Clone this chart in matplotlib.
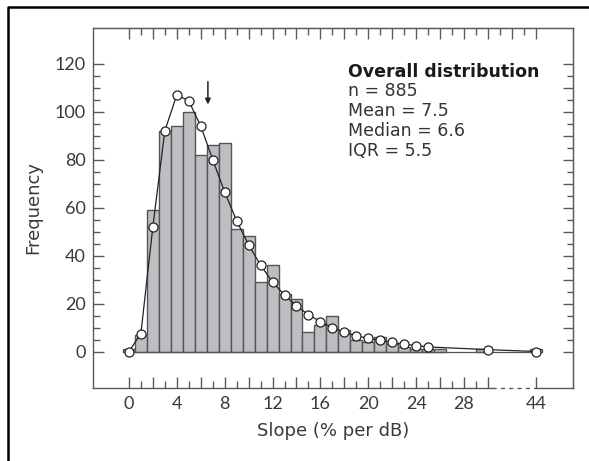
import matplotlib.pyplot as plt
import numpy as np
from matplotlib.lines import Line2D

plt.rcParams['font.family'] = ['Lato', 'DejaVu Sans']
label_font = ['DejaVu Sans']

# Histogram counts (slope bins, % per dB)
bar_slope = [0, 1, 2, 3, 4, 5, 6, 7, 8, 9, 10, 11, 12, 13, 14, 15, 16, 17, 18,
             19, 20, 21, 22, 23, 24, 25, 26, 29.5, 44]
bar_count = [1, 7, 59, 92, 94, 100, 82, 86, 87, 51, 48, 29, 36, 24, 22, 8, 11,
             15, 9, 5, 4, 6, 3, 2, 1, 1, 1, 1, 1]

# Smoothed distribution (open circles)
fit_slope = [0, 1, 2, 3, 4, 5, 6, 7, 8, 9, 10, 11, 12, 13, 14, 15, 16, 17, 18,
             19, 20, 21, 22, 23, 24, 25, 30, 44]
fit_count = [0, 7.5, 52, 92, 107, 104.5, 94, 80, 66.5, 54.5, 44.5, 36, 29, 23.5,
             19, 15.3, 12.5, 10, 8, 6.5, 5.6, 4.6, 3.8, 3.1, 2.5, 1.9, 0.8, 0]

median = 6.6
stats_title = "Overall distribution"
stats_lines = ["n = 885", "Mean = 7.5", "Median = 6.6", "IQR = 5.5"]


def brk(x):
    # axis is broken between 30 and 44
    x = np.asarray(x, dtype=float)
    return np.where(x > 30, x - 10, x)


axis_col = '#5a5a5a'
text_col = '#3a3a3a'

fig = plt.figure(figsize=(5.89, 4.61), dpi=100)
ax = fig.add_axes([93 / 589, 1 - 387.5 / 461, (573 - 93) / 589, (387.5 - 27.7) / 461])

ax.bar(brk(bar_slope), bar_count, width=1.0, color='#bdbec2',
       edgecolor='#555555', linewidth=1.0, zorder=2)
ax.hlines(0, -0.5, 34.5, color='#555555', linewidth=0.9, zorder=2)
ax.plot(brk(fit_slope), fit_count, '-', color='#222222', linewidth=0.9,
        marker='o', markersize=6.5, markerfacecolor='white',
        markeredgecolor='#222222', markeredgewidth=0.9, zorder=3)

# arrow at the median
ax.annotate('', xy=(median, 103), xytext=(median, 112.5),
            arrowprops=dict(arrowstyle='-|>', color='#222222', lw=1.1,
                            mutation_scale=8, shrinkA=0, shrinkB=0))

ax.text(18.3, 116.4, stats_title, fontsize=12.5, fontweight='bold',
        color='#1a1a1a', va='center', ha='left', family=label_font)
for i, s in enumerate(stats_lines):
    ax.text(18.3, 108.6 - i * 8.3, s, fontsize=12.5, color='#333333',
            va='center', ha='left', family=label_font)

ax.set_xlim(-3, 37.1)
ax.set_ylim(-15, 135)

# y axis
ax.set_yticks(np.arange(0, 121, 20))
ax.set_yticks(np.arange(0, 121, 5), minor=True)
ax.tick_params(axis='y', which='major', direction='in', length=8, width=1,
               color=axis_col, labelsize=13, labelcolor=text_col, pad=5)
ax.tick_params(axis='y', which='minor', direction='in', length=5, width=1,
               color=axis_col)

# x axis (bottom)
even = list(range(0, 31, 2))
ax.set_xticks(even + [34])
ax.set_xticklabels([str(t) if (t % 4 == 0 and t <= 28) else '' for t in even] + ['44'])
ax.set_xticks(np.arange(1, 30, 2), minor=True)
ax.tick_params(axis='x', which='major', direction='in', length=8, width=1,
               color=axis_col, labelsize=13, labelcolor=text_col, pad=6)
ax.tick_params(axis='x', which='minor', direction='in', length=5, width=1,
               color=axis_col)

# top and right ticks
top = ax.secondary_xaxis('top')
top.set_xticks(np.arange(0, 35, 2))
top.set_xticks(np.arange(1, 34, 2), minor=True)
top.set_xticklabels([])
top.tick_params(which='major', direction='in', length=8, width=1, color=axis_col)
top.tick_params(which='minor', direction='in', length=5, width=1, color=axis_col)
top.spines['top'].set_color(axis_col)

right = ax.secondary_yaxis('right')
right.set_yticks(np.arange(0, 121, 10))
right.set_yticks(np.arange(5, 121, 10), minor=True)
right.set_yticklabels([])
right.tick_params(which='major', direction='in', length=7, width=1, color=axis_col)
right.tick_params(which='minor', direction='in', length=4, width=1, color=axis_col)
right.spines['right'].set_color(axis_col)

for s in ['left', 'top', 'right']:
    ax.spines[s].set_color(axis_col)
    ax.spines[s].set_linewidth(1.0)
ax.spines['bottom'].set_visible(False)

# broken bottom axis line
tr = ax.get_xaxis_transform()
ax.plot([-3, 30.3], [0, 0], color=axis_col, lw=1.0, transform=tr, clip_on=False)
ax.plot([30.3, 34], [0, 0], color=axis_col, lw=1.0, ls=(0, (3, 3)),
        transform=tr, clip_on=False)
ax.plot([34, 37.1], [0, 0], color=axis_col, lw=1.0, transform=tr, clip_on=False)

ax.set_xlabel('Slope (% per dB)', fontsize=13, color=text_col, labelpad=7,
              family=label_font)
ax.set_ylabel('Frequency', fontsize=13, color=text_col, labelpad=9,
              family=label_font)

# outer frame (left and top edges visible)
fig.add_artist(Line2D([8 / 589, 8 / 589, 1.0], [0.0, 1 - 7 / 461, 1 - 7 / 461],
                      transform=fig.transFigure, color='black', lw=1.8))

fig.savefig('out.png', dpi=100)
